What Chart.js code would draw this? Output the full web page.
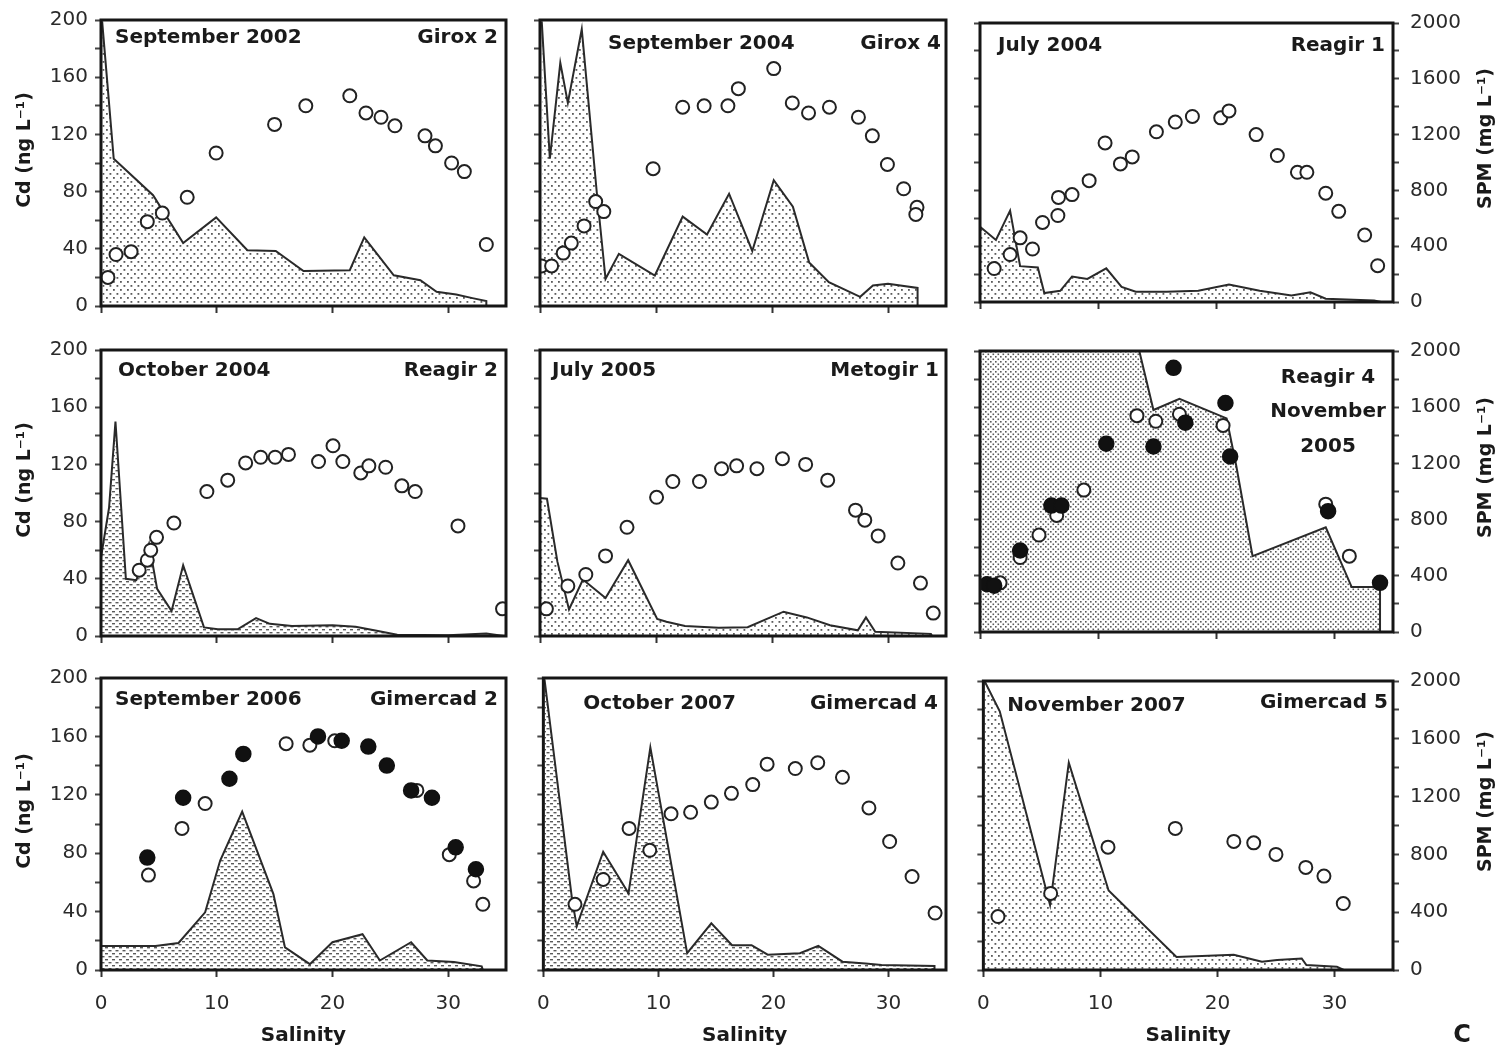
<!DOCTYPE html>
<html>
<head>
<meta charset="utf-8">
<script src="https://cdn.jsdelivr.net/npm/chart.js@4.4.1/dist/chart.umd.min.js"></script>
<style>
  html, body { margin: 0; padding: 0; background: #fff; }
  #fig { position: relative; width: 1500px; height: 1050px; overflow: hidden; background: #fff; }
  #fig canvas { position: absolute; }
</style>
</head>
<body>
<div id="fig"></div>
<script>
// ---------------- data ----------------
const salinityTicks = [0, 10, 20, 30];
const panelDates = ['September 2002', 'September 2004', 'July 2004',
                    'October 2004', 'July 2005', 'November 2005',
                    'September 2006', 'October 2007', 'November 2007'];
const panelStations = ['Girox 2', 'Girox 4', 'Reagir 1',
                       'Reagir 2', 'Metogir 1', 'Reagir 4',
                       'Gimercad 2', 'Gimercad 4', 'Gimercad 5'];

// Girox 2 — September 2002
const girox2Sal = [0.6, 1.3, 2.6, 4.0, 5.3, 7.45, 9.95, 15.0, 17.7, 21.5, 22.9, 24.2, 25.4, 28.0, 28.9, 30.3, 31.4, 33.3];
const girox2Cd  = [20, 36, 38, 59, 65, 76, 107, 127, 140, 147, 135, 132, 126, 119, 112, 100, 94, 43];
const girox2SpmSal = [0.1, 1.1, 4.5, 7.1, 9.95, 12.65, 15.1, 17.5, 21.5, 22.75, 25.3, 27.6, 29.0, 30.7, 32.1, 33.3, 33.3];
const girox2Spm    = [1990, 1030, 775, 440, 620, 390, 385, 245, 250, 480, 215, 180, 100, 80, 55, 35, 0];

// Girox 4 — September 2004
const girox4Sal = [0.15, 1.0, 2.0, 2.7, 3.8, 4.8, 5.5, 9.75, 12.3, 14.15, 16.2, 17.1, 20.15, 21.75, 23.15, 24.95, 27.45, 28.65, 29.95, 31.35, 32.5, 32.4];
const girox4Cd  = [28, 28, 37, 44, 56, 73, 66, 96, 139, 140, 140, 152, 166, 142, 135, 139, 132, 119, 99, 82, 69, 64];
const girox4SpmSal = [0.15, 0.85, 1.75, 2.4, 3.6, 4.9, 5.65, 6.8, 9.9, 12.3, 14.4, 16.3, 18.3, 20.15, 21.8, 23.2, 24.9, 27.6, 28.7, 30.0, 32.55, 32.55];
const girox4Spm    = [1990, 1030, 1700, 1420, 1935, 790, 190, 365, 213, 625, 500, 785, 385, 880, 695, 305, 167, 64, 144, 156, 126, 0];

// Reagir 1 — July 2004
const reagir1Sal = [1.2, 2.55, 3.4, 4.45, 5.3, 6.6, 6.65, 7.8, 9.25, 10.6, 11.9, 12.9, 14.95, 16.55, 18.0, 20.4, 21.1, 23.4, 25.2, 26.9, 27.7, 29.3, 30.4, 32.6, 33.7];
const reagir1Cd  = [24, 34, 46, 38, 57, 62, 75, 77, 87, 114, 99, 104, 122, 129, 133, 132, 137, 120, 105, 93, 93, 78, 65, 48, 26];
const reagir1SpmSal = [0, 1.35, 2.55, 3.4, 4.9, 5.45, 6.8, 7.8, 9.1, 10.7, 12.0, 13.2, 15.8, 18.5, 21.1, 23.7, 26.4, 28.0, 29.3, 33.4, 34.0];
const reagir1Spm    = [540, 445, 655, 257, 248, 64, 80, 183, 165, 241, 108, 73, 73, 80, 126, 80, 46, 69, 23, 11, 0];

// Reagir 2 — October 2004
const reagir2Sal = [3.3, 4.0, 4.3, 4.8, 6.3, 9.15, 10.95, 12.5, 13.8, 15.05, 16.2, 18.8, 20.05, 20.9, 22.45, 23.15, 24.6, 26.0, 27.15, 30.85, 34.7];
const reagir2Cd  = [46, 53, 60, 69, 79, 101, 109, 121, 125, 125, 127, 122, 133, 122, 114, 119, 118, 105, 101, 77, 19];
const reagir2SpmSal = [0, 0.7, 1.25, 2.15, 3.05, 4.15, 4.85, 6.1, 7.1, 8.9, 10.1, 11.8, 13.4, 14.6, 16.5, 20.0, 22.0, 23.6, 25.6, 30.0, 33.3, 34.8];
const reagir2Spm    = [550, 900, 1500, 400, 390, 645, 330, 175, 495, 60, 47, 47, 125, 85, 70, 75, 65, 40, 8, 5, 18, 0];

// Metogir 1 — July 2005
const metogir1Sal = [0.55, 2.4, 3.95, 5.65, 7.5, 10.05, 11.45, 13.75, 15.65, 16.95, 18.7, 20.9, 22.9, 24.8, 27.2, 28.0, 29.15, 30.85, 32.8, 33.9];
const metogir1Cd  = [19, 35, 43, 56, 76, 97, 108, 108, 117, 119, 117, 124, 120, 109, 88, 81, 70, 51, 37, 16];
const metogir1SpmSal = [0, 0.6, 1.5, 2.5, 3.7, 5.65, 7.6, 10.1, 10.9, 12.5, 15.4, 17.9, 21.0, 23.0, 25.0, 27.4, 28.1, 28.9, 33.7, 33.8];
const metogir1Spm    = [965, 960, 520, 185, 395, 265, 530, 120, 100, 70, 58, 62, 170, 130, 75, 40, 130, 30, 15, 0];

// Reagir 4 — November 2005 (open and filled symbols)
const reagir4SalOpen = [1.7, 3.4, 5.0, 6.5, 8.8, 13.3, 14.9, 16.9, 20.6, 29.3, 31.3];
const reagir4CdOpen  = [35, 53, 69, 83, 101, 154, 150, 155, 147, 91, 54];
const reagir4SalFilled = [0.6, 1.2, 3.4, 6.05, 6.9, 10.7, 14.7, 16.4, 17.4, 20.8, 21.2, 29.5, 33.9];
const reagir4CdFilled  = [34, 33, 58, 90, 90, 134, 132, 188, 149, 163, 125, 86, 35];
const reagir4SpmSal = [0, 13.5, 14.7, 16.9, 20.9, 21.7, 23.1, 29.3, 31.5, 33.9, 33.9];
const reagir4Spm    = [2000, 2000, 1580, 1660, 1520, 1190, 540, 745, 320, 320, 0];

// Gimercad 2 — September 2006 (open and filled symbols)
const gimercad2SalOpen = [4.1, 7.0, 9.0, 16.0, 18.05, 20.2, 27.3, 30.1, 32.2, 33.0];
const gimercad2CdOpen  = [65, 97, 114, 155, 154, 157, 123, 79, 61, 45];
const gimercad2SalFilled = [4.0, 7.1, 11.1, 12.3, 18.75, 20.8, 23.1, 24.7, 26.8, 28.6, 30.65, 32.4];
const gimercad2CdFilled  = [77, 118, 131, 148, 160, 157, 153, 140, 123, 118, 84, 69];
const gimercad2SpmSal = [0, 4.7, 6.7, 9.0, 10.3, 12.2, 14.9, 15.9, 18.05, 20.0, 22.6, 24.1, 26.8, 28.2, 30.5, 32.9, 33.0];
const gimercad2Spm    = [165, 165, 185, 395, 750, 1085, 520, 155, 40, 190, 245, 65, 190, 65, 55, 25, 0];

// Gimercad 4 — October 2007
const gimercad4Sal = [2.75, 5.2, 7.45, 9.25, 11.1, 12.8, 14.6, 16.35, 18.2, 19.45, 21.9, 23.85, 26.0, 28.3, 30.1, 32.05, 34.05];
const gimercad4Cd  = [45, 62, 97, 82, 107, 108, 115, 121, 127, 141, 138, 142, 132, 111, 88, 64, 39];
const gimercad4SpmSal = [0.1, 2.5, 2.9, 5.2, 7.4, 9.3, 12.5, 14.6, 16.4, 18.1, 19.5, 22.3, 23.9, 26.0, 28.0, 29.4, 34.0, 34.0];
const gimercad4Spm    = [1990, 480, 300, 810, 525, 1525, 115, 320, 170, 170, 105, 115, 165, 57, 45, 34, 27, 0];

// Gimercad 5 — November 2007
const gimercad5Sal = [1.25, 5.75, 10.65, 16.4, 21.4, 23.1, 25.0, 27.55, 29.1, 30.75];
const gimercad5Cd  = [37, 53, 85, 98, 89, 88, 80, 71, 65, 46];
const gimercad5SpmSal = [0.1, 1.4, 5.7, 7.3, 10.7, 16.5, 21.4, 23.8, 25.1, 27.2, 27.6, 30.2, 30.8];
const gimercad5Spm    = [2000, 1790, 450, 1435, 550, 90, 105, 57, 70, 80, 34, 23, 0];

// ---------------- layout ----------------
const FONT = 'DejaVu Sans';
const colCanvasLeft = [0, 522, 962];
const colLeftW = [101, 18, 18];
const colPlotW = [412, 413, 413];
const colRightW = [7, 7, 107];
const rowCanvasTop = [0, 328, 658];
const rowPadTop = [20, 22, 20];
const rowPlotH = [291, 291, 292];
const rowBottomH = [14, 14, 80];

const panels = [
  { sal: girox2Sal, cd: girox2Cd, spmSal: girox2SpmSal, spm: girox2Spm, fill: 'dots',
    labels: [{ i: 0, kind: 'date', side: 'left', dx: 14, dy: 18 }, { i: 0, kind: 'station', side: 'right', dx: 8, dy: 18 }] },
  { sal: girox4Sal, cd: girox4Cd, spmSal: girox4SpmSal, spm: girox4Spm, fill: 'dots',
    labels: [{ i: 1, kind: 'date', side: 'left', dx: 68, dy: 24 }, { i: 1, kind: 'station', side: 'right', dx: 5, dy: 24 }] },
  { sal: reagir1Sal, cd: reagir1Cd, spmSal: reagir1SpmSal, spm: reagir1Spm, fill: 'dots',
    labels: [{ i: 2, kind: 'date', side: 'left', dx: 18, dy: 23 }, { i: 2, kind: 'station', side: 'right', dx: 8, dy: 23 }] },
  { sal: reagir2Sal, cd: reagir2Cd, spmSal: reagir2SpmSal, spm: reagir2Spm, fill: 'dash',
    labels: [{ i: 3, kind: 'date', side: 'left', dx: 17, dy: 21 }, { i: 3, kind: 'station', side: 'right', dx: 8, dy: 21 }] },
  { sal: metogir1Sal, cd: metogir1Cd, spmSal: metogir1SpmSal, spm: metogir1Spm, fill: 'dots',
    labels: [{ i: 4, kind: 'date', side: 'left', dx: 12, dy: 21 }, { i: 4, kind: 'station', side: 'right', dx: 7, dy: 21 }] },
  { sal: reagir4SalOpen, cd: reagir4CdOpen, salB: reagir4SalFilled, cdB: reagir4CdFilled,
    spmSal: reagir4SpmSal, spm: reagir4Spm, fill: 'dense',
    labels: [{ i: 5, kind: 'station', side: 'center', dx: 65, dy: 27 },
             { i: 5, kind: 'date', part: 0, side: 'center', dx: 65, dy: 61 },
             { i: 5, kind: 'date', part: 1, side: 'center', dx: 65, dy: 96 }] },
  { sal: gimercad2SalOpen, cd: gimercad2CdOpen, salB: gimercad2SalFilled, cdB: gimercad2CdFilled,
    spmSal: gimercad2SpmSal, spm: gimercad2Spm, fill: 'dash',
    labels: [{ i: 6, kind: 'date', side: 'left', dx: 14, dy: 22 }, { i: 6, kind: 'station', side: 'right', dx: 8, dy: 22 }] },
  { sal: gimercad4Sal, cd: gimercad4Cd, spmSal: gimercad4SpmSal, spm: gimercad4Spm, fill: 'dash',
    labels: [{ i: 7, kind: 'date', side: 'left', dx: 40, dy: 26 }, { i: 7, kind: 'station', side: 'right', dx: 8, dy: 26 }] },
  { sal: gimercad5Sal, cd: gimercad5Cd, spmSal: gimercad5SpmSal, spm: gimercad5Spm, fill: 'dots',
    labels: [{ i: 8, kind: 'date', side: 'left', dx: 24, dy: 25 }, { i: 8, kind: 'station', side: 'right', dx: 5, dy: 22 }] }
];

// stipple used under the SPM curve
function makeFill(ctx, kind) {
  const tile = document.createElement('canvas');
  const size = kind === 'dense' ? [5, 5] : kind === 'dash' ? [7, 6] : [7, 8];
  tile.width = size[0]; tile.height = size[1];
  const c = tile.getContext('2d');
  c.fillStyle = '#ffffff';
  c.fillRect(0, 0, size[0], size[1]);
  c.fillStyle = '#5a5a5a';
  if (kind === 'dash') {
    c.fillRect(0, 1, 3, 1.4); c.fillRect(3.5, 4, 3, 1.4);
  } else if (kind === 'dense') {
    c.fillRect(0.5, 0.5, 1.6, 1.6); c.fillRect(3, 3, 1.6, 1.6);
  } else {
    c.fillRect(1, 1, 1.8, 1.8); c.fillRect(4.5, 5, 1.8, 1.8);
  }
  return ctx.createPattern(tile, 'repeat');
}

// frame, panel captions and rotated axis titles
const panelDecor = {
  id: 'panelDecor',
  afterDraw(chart, args, opts) {
    const { ctx, chartArea: a } = chart;
    ctx.save();
    ctx.strokeStyle = '#161616';
    ctx.lineWidth = 3;
    ctx.strokeRect(a.left, a.top, a.right - a.left, a.bottom - a.top);

    ctx.fillStyle = '#1a1a1a';
    ctx.textBaseline = 'middle';
    ctx.font = 'bold 20px "' + FONT + '"';
    opts.labels.forEach(l => {
      let text = l.kind === 'date' ? panelDates[l.i] : panelStations[l.i];
      if (l.part !== undefined) {
        const words = text.split(' ');
        text = words[l.part];
      }
      let x;
      if (l.side === 'left') { ctx.textAlign = 'left'; x = a.left + l.dx; }
      else if (l.side === 'right') { ctx.textAlign = 'right'; x = a.right - l.dx; }
      else { ctx.textAlign = 'center'; x = a.right - l.dx; }
      ctx.fillText(text, x, a.top + l.dy);
    });

    const midY = (a.top + a.bottom) / 2;
    if (opts.cdTitle) {
      ctx.save();
      ctx.translate(25, midY - 13);
      ctx.rotate(-Math.PI / 2);
      ctx.textAlign = 'center';
      ctx.font = 'bold 19px "' + FONT + '"';
      ctx.fillText('Cd (ng L\u207B\u00B9)', 0, 0);
      ctx.restore();
    }
    if (opts.spmTitle) {
      ctx.save();
      ctx.translate(a.right + 93, midY - 24);
      ctx.rotate(-Math.PI / 2);
      ctx.textAlign = 'center';
      ctx.font = 'bold 19px "' + FONT + '"';
      ctx.fillText('SPM (mg L\u207B\u00B9)', 0, 0);
      ctx.restore();
    }
    if (opts.corner) {
      ctx.textAlign = 'center';
      ctx.font = 'bold 24px "' + FONT + '"';
      ctx.fillText('C', a.right + 69, a.bottom + 66);
    }
    ctx.restore();
  }
};

const fig = document.getElementById('fig');
const toPoints = (xs, ys) => xs.map((x, k) => ({ x: x, y: ys[k] }));

panels.forEach((p, idx) => {
  const row = Math.floor(idx / 3), col = idx % 3;
  const canvas = document.createElement('canvas');
  const w = colLeftW[col] + colPlotW[col] + colRightW[col];
  const h = rowPadTop[row] + rowPlotH[row] + rowBottomH[row];
  canvas.width = w; canvas.height = h;
  canvas.style.left = colCanvasLeft[col] + 'px';
  canvas.style.top = rowCanvasTop[row] + 'px';
  canvas.style.width = w + 'px'; canvas.style.height = h + 'px';
  fig.appendChild(canvas);
  const ctx = canvas.getContext('2d');

  const showX = row === 2, showY = col === 0, showRight = col === 2;
  const tickFont = { family: FONT, size: 20 };

  const datasets = [];
  if (p.salB) {
    datasets.push({
      type: 'scatter', data: toPoints(p.salB, p.cdB), yAxisID: 'y', order: 1,
      pointStyle: 'circle', pointRadius: 7.5, borderWidth: 1.5,
      borderColor: '#111', backgroundColor: '#111'
    });
  }
  datasets.push({
    type: 'scatter', data: toPoints(p.sal, p.cd), yAxisID: 'y', order: 2,
    pointStyle: 'circle', pointRadius: 6.5, borderWidth: 2,
    borderColor: '#222', backgroundColor: '#fff'
  });
  datasets.push({
    type: 'line', data: toPoints(p.spmSal, p.spm), yAxisID: 'y1', order: 3,
    showLine: true, fill: 'origin', backgroundColor: makeFill(ctx, p.fill),
    borderColor: '#2a2a2a', borderWidth: 2, pointRadius: 0, tension: 0
  });

  new Chart(canvas, {
    type: 'scatter',
    data: { datasets: datasets },
    options: {
      responsive: false, animation: false, devicePixelRatio: 1,
      events: [],
      layout: { padding: { top: rowPadTop[row], right: showRight ? 0 : colRightW[col], left: 0, bottom: 0 } },
      plugins: {
        legend: { display: false }, tooltip: { enabled: false },
        panelDecor: { labels: p.labels, cdTitle: showY, spmTitle: showRight, corner: showX && showRight }
      },
      scales: {
        x: {
          type: 'linear', position: 'bottom', min: 0, max: 35,
          afterBuildTicks: s => { s.ticks = salinityTicks.map(v => ({ value: v })); },
          afterFit: s => { s.height = rowBottomH[row]; },
          ticks: { autoSkip: false, maxRotation: 0, font: tickFont, color: '#2a2a2a', padding: 15,
                   callback: v => showX ? String(v) : '' },
          grid: { drawOnChartArea: false, drawTicks: true, tickLength: 7, tickWidth: 2, tickColor: '#333' },
          border: { display: false },
          title: { display: showX, text: 'Salinity', color: '#1a1a1a',
                   font: { family: FONT, size: 20, weight: 'bold' }, padding: { top: 0, bottom: 2 } }
        },
        y: {
          type: 'linear', position: 'left', min: 0, max: 200,
          afterFit: s => { s.width = colLeftW[col]; },
          ticks: { stepSize: 20, font: tickFont, color: '#2a2a2a', padding: 7,
                   callback: v => (showY && v % 40 === 0) ? String(v) : '' },
          grid: { drawOnChartArea: false, drawTicks: true, tickLength: 6, tickWidth: 2, tickColor: '#444' },
          border: { display: false }
        },
        y1: {
          type: 'linear', position: 'right', min: 0, max: 2000, display: showRight,
          afterFit: s => { s.width = colRightW[col]; },
          ticks: { stepSize: 200, font: tickFont, color: '#2a2a2a', padding: 11,
                   callback: v => v % 400 === 0 ? String(v) : '' },
          grid: { drawOnChartArea: false, drawTicks: true, tickLength: 6, tickWidth: 2, tickColor: '#444' },
          border: { display: false }
        }
      }
    },
    plugins: [panelDecor]
  });
});
</script>
</body>
</html>
